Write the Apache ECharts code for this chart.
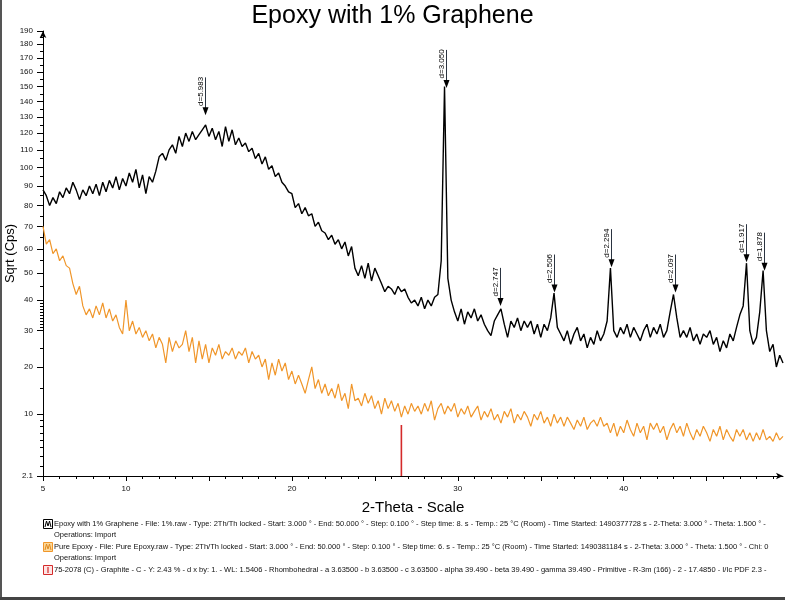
<!DOCTYPE html>
<html><head><meta charset="utf-8">
<script src="https://cdn.jsdelivr.net/npm/echarts@6/dist/echarts.min.js"></script>
<style>html,body{margin:0;padding:0;background:#fff}#c{width:785px;height:600px}</style>
</head><body><div id="c"></div>
<script>
// 2-Theta positions: start + i*step
const thetaStart = 5.0, thetaStep = 0.2;
// Epoxy with 1% Graphene (Cps)
const epoxyGraphene = [
 88,85,80,84,81,87,84,89,86,92,
 88,83,88,85,90,86,91,85,92,87,
 93,89,95,88,94,90,97,92,99,89,
 96,86,95,92,98,106,108,104,110,113,
 108,118,112,120,115,121,116,119,122,125,
 118,123,116,121,112,124,115,122,113,117,
 112,114,109,111,105,108,102,106,99,101,
 95,97,92,90,87,86,79,81,76,79,
 75,76,70,72,68,67,64,66,62,64,
 60,63,57,61,52,49,53,48,54,47,
 52,49,46,43,45,44,42,45,43,44,
 41,39,40,38,41,37,40,38,41,42,
 55,150,48,40,36,33,37,32,36,34,
 37,33,35,32,30,28.5,33,35,37,32,
 28,33,31,34,30,33,31,33,29,32,
 28,32,30,34,42.5,31,29,27,30,26,
 29,31,27,29,25,28,26,30,27,29,
 33,52,30,28,31,29,32,28,31,29,
 27,30,32,28,31,29,32,28,30,36,
 42,34,28,30,28,31,27,29,26,29,
 28,30,26,28,24,27,25,29,27,31,
 35,38,54,30,26,28,36,51,30,24,
 26,20,23,21
];
// Pure Epoxy (Cps)
const pureEpoxy = [
 70,62,64,58,60,55,57,53,52,46,
 42,45,38,35,37,34,38,35,39,34,
 37,33,35,31,29,40,30,33,29,31,
 28,30,27,29,25,28,26,21,28,24,
 27,25,26,30,24,28,21,27,22,26,
 21,25,23,26,22,24,23,25,22,24,
 23,25,21,24,22,23,20,22,17,21,
 18,22,19,21,17,19,16,18,16,14,
 17,20,15,17,14,16,13.5,15,13,16,
 12.5,14,11,16,12.5,13,11.5,14,12,13.5,
 11,12.5,10,13,11,12.5,10.5,12,9.5,11.5,
 10,12,10.5,11.5,10,12,10.5,12.5,9,11,
 12,10,11.5,10.5,12,9.5,11,10,11.5,9.5,
 10.5,11.5,9,10.5,9.5,11,9,10,8.5,10.5,
 9.5,11,8.5,10,9,10.5,9.5,8,10,9,
 10.5,8.5,9.5,8,10,8.5,9.5,8,9.5,8.5,
 7.5,9,8,9.5,7.5,8.5,9,8,9.5,8,
 8.5,7,8.5,6.5,8,7,9,7.5,6.5,8.5,
 7,8,6,8.5,7.5,8.5,7,8,6,7.5,
 8.5,7,8,6.5,8.5,7,6,7.5,6.5,8,
 7,5.8,7.5,6.5,8,6,7.5,6.5,5.8,7.5,
 6.5,7.5,6,7,5.8,7,6,7.5,6,6.5,
 5.8,7,6,6.5
];
// Peak markers
const peakTheta = [14.79, 29.26, 32.57, 35.80, 39.24, 43.10, 47.38, 48.43];
const peakTip   = [131, 149, 38, 42.7, 52.4, 42.7, 54.4, 51];
const peakLabels = ['d=5.983','d=3.050','d=2.747','d=2.506','d=2.294','d=2.097','d=1.917','d=1.878'];
// Graphite reference stick
const graphiteTheta = [26.6];
const graphiteVal = [8.2];
// Axis ticks
const yTickValues = [2.1,10,20,30,40,50,60,70,80,90,100,110,120,130,140,150,160,170,180,190];
const xLabelValues = [5,10,20,30,40];
const xMin = 5, xMax = 49.6, yMin = 2.1, yMax = 190;

const yMinorTicks = [];
for (let v = 3; v < 10; v++) yMinorTicks.push(v);
for (let v = 31; v < 40; v++) yMinorTicks.push(v);
for (let v = 15; v < 190; v += 10) yMinorTicks.push(v);
const xMajorTicks = [];
for (let v = 5; v <= 45; v += 5) xMajorTicks.push(v);
const xMinorTicks = [];
for (let v = 6; v <= 49; v++) if (v % 5) xMinorTicks.push(v);

const t = Math.sqrt;
const FONT = 'Liberation Sans, Arial, sans-serif';
const chart = echarts.init(document.getElementById('c'));

const legend1 = 'Epoxy with 1% Graphene - File: 1%.raw - Type: 2Th/Th locked - Start: 3.000 ° - End: 50.000 ° - Step: 0.100 ° - Step time: 8. s - Temp.: 25 °C (Room) - Time Started: 1490377728 s - 2-Theta: 3.000 ° - Theta: 1.500 ° -';
const legend3 = 'Pure Epoxy - File: Pure Epoxy.raw - Type: 2Th/Th locked - Start: 3.000 ° - End: 50.000 ° - Step: 0.100 ° - Step time: 6. s - Temp.: 25 °C (Room) - Time Started: 1490381184 s - 2-Theta: 3.000 ° - Theta: 1.500 ° - Chi: 0';
const legend5 = '75-2078 (C) - Graphite - C - Y: 2.43 % - d x by: 1. - WL: 1.5406 - Rhombohedral - a 3.63500 - b 3.63500 - c 3.63500 - alpha 39.490 - beta 39.490 - gamma 39.490 - Primitive - R-3m (166) - 2 - 17.4850 - I/Ic PDF 2.3 -';

const legTxt = (txt, x, y) => ({type:'text', left:x, top:y, silent:true,
  style:{text:txt, fontSize:7.5, fill:'#111', fontFamily:FONT}});

chart.setOption({
  animation: false,
  textStyle: {fontFamily: FONT},
  title: {text: 'Epoxy with 1% Graphene', left: 'center', top: -1,
    textStyle: {fontSize: 25, fontWeight: 'normal', color: '#000', fontFamily: FONT}},
  grid: {left: 43, right: 2, top: 31, bottom: 124, containLabel: false, outerBoundsMode: 'none'},
  xAxis: [
    {type: 'value', min: xMin, max: xMax, position: 'bottom',
     axisLine: {show: true, lineStyle: {color: '#000', width: 1}, symbol: ['none','arrow'], symbolSize: [5,7]},
     axisTick: {show: true, customValues: xMajorTicks, length: 5, lineStyle: {color: '#000'}},
     axisLabel: {customValues: xLabelValues, fontSize: 8, color: '#111', margin: 9, showMinLabel: true},
     splitLine: {show: false},
     name: '2-Theta - Scale', nameLocation: 'middle', nameGap: 24, nameMoveOverlap: false,
     nameTextStyle: {fontSize: 15, color: '#000', fontFamily: FONT}},
    {type: 'value', min: xMin, max: xMax, position: 'bottom', offset: 0,
     axisLine: {show: false},
     axisTick: {show: true, customValues: xMinorTicks, length: 3, lineStyle: {color: '#000'}},
     axisLabel: {show: false}, splitLine: {show: false}}
  ],
  yAxis: [
    {type: 'value', min: t(yMin), max: t(yMax), position: 'left',
     axisLine: {show: true, lineStyle: {color: '#000', width: 1}, symbol: ['none','arrow'], symbolSize: [5,7]},
     axisTick: {show: true, customValues: yTickValues.map(t), length: 6, lineStyle: {color: '#000'}},
     axisLabel: {customValues: yTickValues.map(t), fontSize: 8, color: '#111', margin: 10,
       formatter: v => String(Math.round(v * v * 10) / 10)},
     splitLine: {show: false},
     name: 'Sqrt (Cps)', nameLocation: 'middle', nameGap: 26, nameMoveOverlap: false,
     nameTextStyle: {fontSize: 13, color: '#000', fontFamily: FONT}},
    {type: 'value', min: t(yMin), max: t(yMax), position: 'left', offset: 0,
     axisLine: {show: false},
     axisTick: {show: true, customValues: yMinorTicks.map(t), length: 3, lineStyle: {color: '#000'}},
     axisLabel: {show: false}, splitLine: {show: false}}
  ],
  series: [
    {name: 'Pure Epoxy', type: 'line', showSymbol: false, symbol: 'none', z: 2,
     lineStyle: {color: '#f0962a', width: 1.2},
     data: pureEpoxy.map((v, i) => [thetaStart + i * thetaStep, t(v)])},
    {name: 'Epoxy with 1% Graphene', type: 'line', showSymbol: false, symbol: 'none', z: 3,
     lineStyle: {color: '#000', width: 1.4},
     data: epoxyGraphene.map((v, i) => [thetaStart + i * thetaStep, t(v)])},
    {name: 'Graphite', type: 'line', showSymbol: false, symbol: 'none', z: 4,
     lineStyle: {color: '#d42a2a', width: 1.6},
     data: [[graphiteTheta[0], t(yMin)], [graphiteTheta[0], t(graphiteVal[0])]]},
    {name: 'peaks', type: 'custom', z: 5, silent: true,
     data: peakTheta.map((x, i) => [x, t(peakTip[i])]),
     renderItem: (params, api) => {
       const p = api.coord([api.value(0), api.value(1)]);
       const x = Math.round(p[0]) + 0.5, y = p[1];
       const L = 38;
       return {type: 'group', children: [
         {type: 'line', shape: {x1: x, y1: y - L, x2: x, y2: y - 6}, style: {stroke: '#2a3340', lineWidth: 1}},
         {type: 'polygon', shape: {points: [[x - 3, y - 8], [x + 3, y - 8], [x, y]]}, style: {fill: '#000'}},
         {type: 'text', x: x - 5, y: y - L / 2 - 5, rotation: Math.PI / 2,
          style: {text: peakLabels[params.dataIndex], fontSize: 8, fill: '#000', align: 'center',
                  verticalAlign: 'middle', fontFamily: FONT}}
       ]};
     }}
  ],
  graphic: [
    {type: 'rect', shape: {x: 0, y: 0, width: 2, height: 600}, style: {fill: '#555'}, silent: true},
    {type: 'rect', shape: {x: 0, y: 597, width: 785, height: 3}, style: {fill: '#444'}, silent: true},
    {type: 'rect', shape: {x: 43.5, y: 519.5, width: 9, height: 9}, style: {fill: '#fff', stroke: '#000', lineWidth: 1}, silent: true},
    {type: 'polyline', shape: {points: [[45, 527], [46.5, 521], [48, 526], [49.5, 521], [51, 527]]}, style: {stroke: '#000', fill: 'none', lineWidth: 1}, silent: true},
    {type: 'rect', shape: {x: 43.5, y: 542.5, width: 9, height: 9}, style: {fill: '#fbd89a', stroke: '#f0962a', lineWidth: 1}, silent: true},
    {type: 'polyline', shape: {points: [[45, 550], [46.5, 544], [48, 549], [49.5, 544], [51, 550]]}, style: {stroke: '#e08a20', fill: 'none', lineWidth: 1}, silent: true},
    {type: 'rect', shape: {x: 43.5, y: 565.5, width: 9, height: 9}, style: {fill: '#fde4e4', stroke: '#d42a2a', lineWidth: 1}, silent: true},
    {type: 'line', shape: {x1: 48, y1: 567, x2: 48, y2: 573}, style: {stroke: '#d42a2a', lineWidth: 1.2}, silent: true},
    legTxt(legend1, 54, 520),
    legTxt('Operations: Import', 54, 531),
    legTxt(legend3, 54, 543),
    legTxt('Operations: Import', 54, 554),
    legTxt(legend5, 54, 566)
  ]
});
</script>
</body></html>
